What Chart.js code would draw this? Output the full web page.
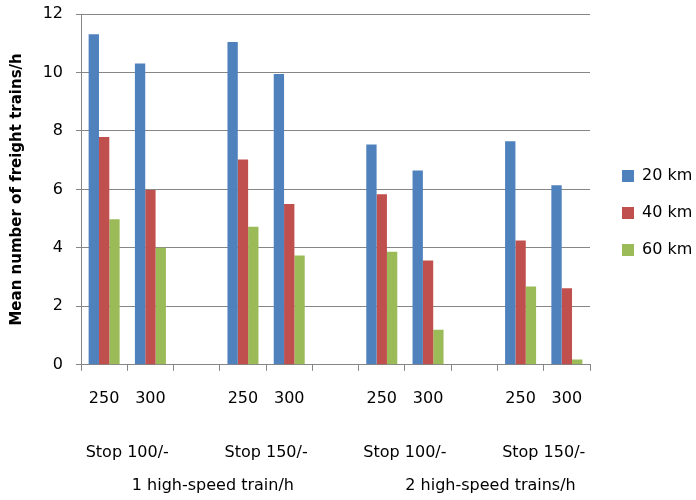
<!DOCTYPE html>
<html>
<head>
<meta charset="utf-8">
<script src="https://cdn.jsdelivr.net/npm/chart.js@4/dist/chart.umd.min.js"></script>
<style>
  body { margin: 0; background: #fff; }
</style>
</head>
<body>
<canvas id="freightChart" width="696" height="500"></canvas>
<script>
// Categories (speed), blank ones separate the groups
const categories = ['250', '300', '', '250', '300', '', '250', '300', '', '250', '300'];

// Mean number of freight trains/h per distance
const km20 = [11.31, 10.31, null, 11.04, 9.95, null, 7.54, 6.65, null, 7.65, 6.14];
const km40 = [7.79, 5.98, null, 7.02, 5.50, null, 5.83, 3.57, null, 4.25, 2.62];
const km60 = [4.98, 4.00, null, 4.72, 3.74, null, 3.87, 1.20, null, 2.68, 0.18];

// Second and third level category labels (first category index of each group)
const stopLabels = ['Stop 100/-', 'Stop 150/-', 'Stop 100/-', 'Stop 150/-'];
const stopStart = [0, 3, 6, 9];
const trainLabels = ['1 high-speed train/h', '2 high-speed trains/h'];
const trainStart = [0, 6];
const trainEnd = [4, 10];

const FONT = 'DejaVu Sans';
const GRID = '#868686';

// Draws the grouped labels under the x axis
const groupLabels = {
    id: 'groupLabels',
    afterDraw(chart) {
        const ctx = chart.ctx;
        const x = chart.scales.x;
        const base = chart.chartArea.bottom;
        ctx.save();
        ctx.font = '16px "' + FONT + '"';
        ctx.fillStyle = '#000';
        ctx.textAlign = 'center';
        ctx.textBaseline = 'middle';
        stopLabels.forEach((t, i) => {
            const px = (x.getPixelForValue(stopStart[i]) + x.getPixelForValue(stopStart[i] + 1)) / 2;
            ctx.fillText(t, px, base + 88);
        });
        trainLabels.forEach((t, i) => {
            const px = (x.getPixelForValue(trainStart[i]) + x.getPixelForValue(trainEnd[i])) / 2 + 0.35 * (x.getPixelForValue(1) - x.getPixelForValue(0));
            ctx.fillText(t, px, base + 121);
        });
        ctx.restore();
    }
};

const ctx = document.getElementById('freightChart').getContext('2d');

new Chart(ctx, {
    type: 'bar',
    data: {
        labels: categories,
        datasets: [
            { label: '20 km', data: km20, backgroundColor: '#4F81BD' },
            { label: '40 km', data: km40, backgroundColor: '#C0504D' },
            { label: '60 km', data: km60, backgroundColor: '#9BBB59' }
        ]
    },
    options: {
        responsive: false,
        animation: false,
        categoryPercentage: 0.67,
        barPercentage: 1.0,
        layout: { padding: { top: 0, bottom: 74, left: 0, right: 0 } },
        plugins: {
            legend: {
                position: 'right',
                maxWidth: 95,
                labels: {
                    boxWidth: 12,
                    boxHeight: 12,
                    padding: 21,
                    color: '#000',
                    font: { family: FONT, size: 16 }
                }
            },
            tooltip: { enabled: false }
        },
        scales: {
            x: {
                grid: { offset: true, drawOnChartArea: false, tickLength: 6, color: GRID },
                border: { color: GRID },
                ticks: { padding: 18, color: '#000', font: { family: FONT, size: 16 } }
            },
            y: {
                min: 0,
                max: 12,
                ticks: { stepSize: 2, padding: 13, color: '#000', font: { family: FONT, size: 16 } },
                grid: { color: GRID, tickLength: 5 },
                border: { color: GRID },
                title: {
                    display: true,
                    text: 'Mean number of freight trains/h',
                    color: '#000',
                    font: { family: FONT, size: 15, weight: 'bold' },
                    padding: { top: 8, bottom: 17 }
                },
                afterFit: s => { s.width = 81; s.paddingTop = 14; s.paddingBottom = 0; }
            },
            // empty axis, only keeps a gap before the legend
            gap: {
                type: 'linear',
                position: 'right',
                grid: { display: false },
                border: { display: false },
                ticks: { display: false },
                afterFit: s => { s.width = 11; s.paddingTop = 0; s.paddingBottom = 0; }
            }
        }
    },
    plugins: [groupLabels]
});
</script>
</body>
</html>
